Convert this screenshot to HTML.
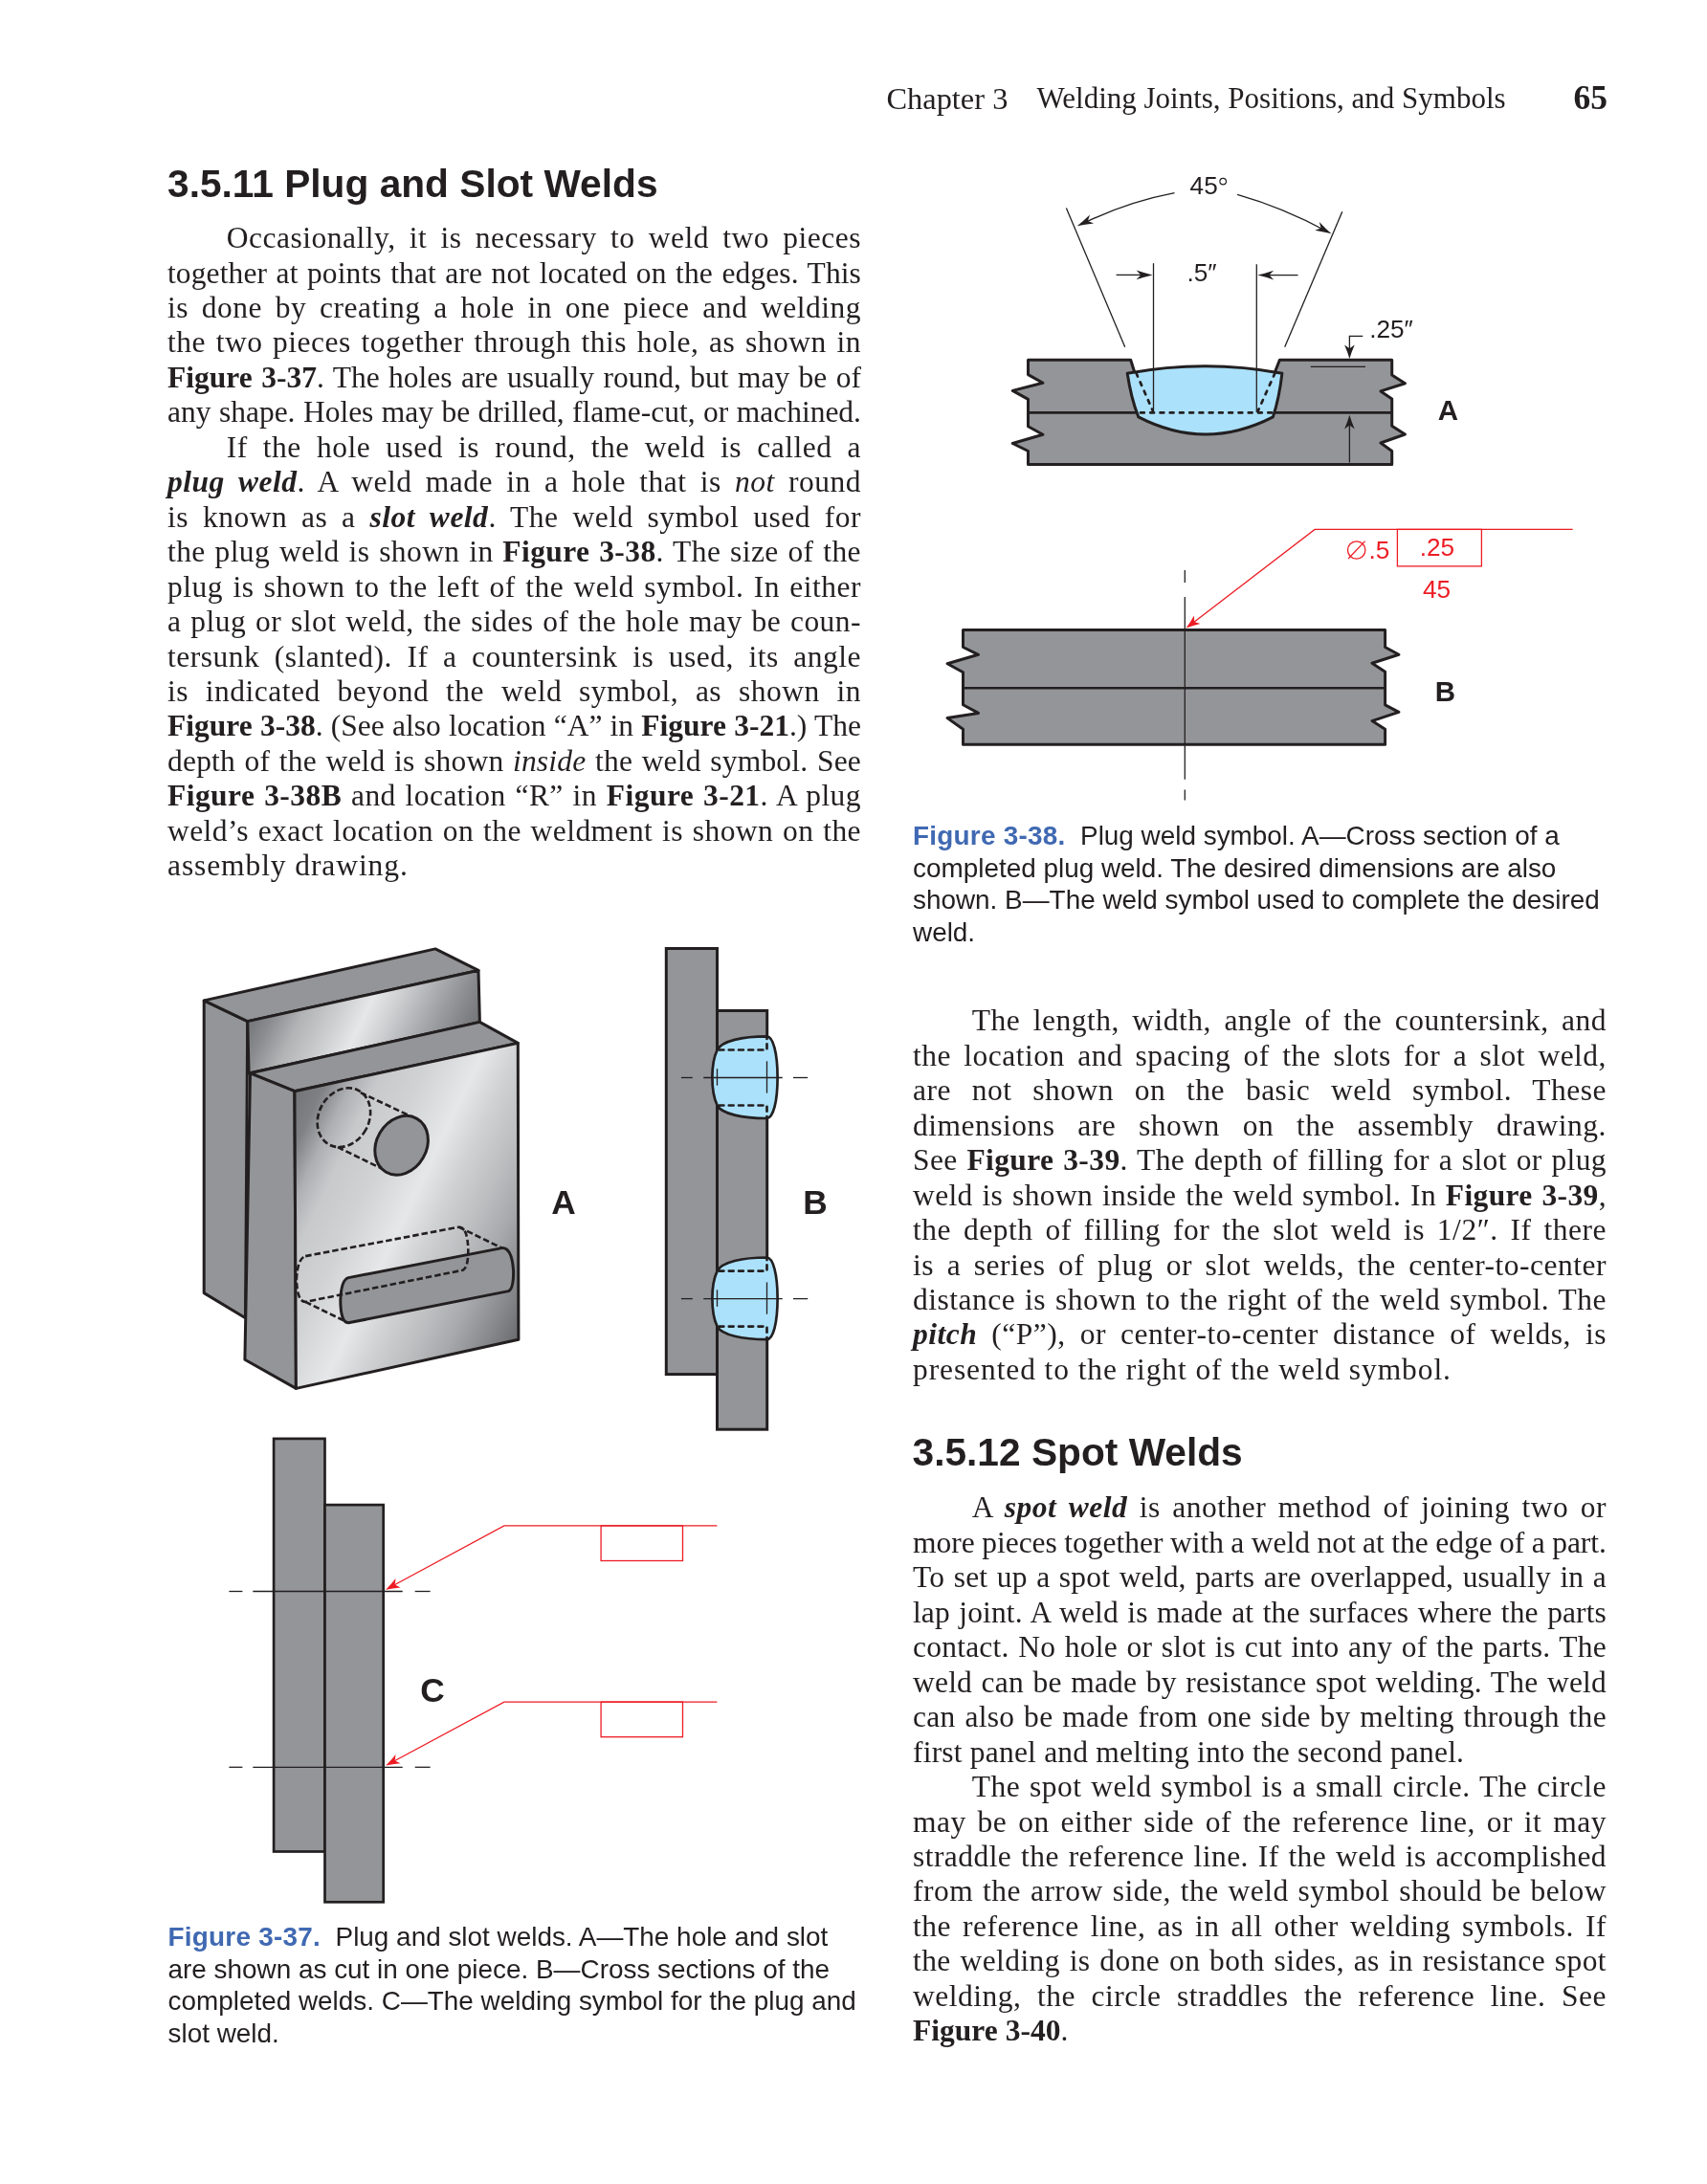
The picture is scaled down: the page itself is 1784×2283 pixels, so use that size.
<!DOCTYPE html>
<html><head><meta charset="utf-8"><title>Chapter 3 Welding Joints, Positions, and Symbols</title>
<style>
html,body{margin:0;padding:0;background:#fff;}
body{width:1784px;height:2283px;position:relative;overflow:hidden;font-family:"Liberation Serif",serif;color:#231f20;}
.ln{position:absolute;font-size:31.5px;line-height:36.45px;height:36.45px;white-space:nowrap;text-align:justify;text-align-last:justify;overflow:visible;}
.ln.last{text-align:left;text-align-last:left;}
.abs{position:absolute;white-space:nowrap;}
.h{font-family:"Liberation Sans",sans-serif;font-weight:bold;font-size:40.7px;line-height:48px;}
.cap{font-family:"Liberation Sans",sans-serif;font-size:27.9px;line-height:33.6px;}
.cap b{color:#4069b2;letter-spacing:0.25px;}
svg{position:absolute;left:0;top:0;}
svg text{font-family:"Liberation Sans",sans-serif;}
</style></head>
<body>
<div id="wrap" style="position:absolute;left:0;top:0;width:1784px;height:2283px;will-change:transform;">
<div class="abs" id="hd1" style="left:926.5px;top:84.9px;font-size:32.4px;line-height:36px;">Chapter 3</div>
<div class="abs" id="hd2" style="left:1083.5px;top:85.3px;font-size:31px;line-height:36px;">Welding Joints, Positions, and Symbols</div>
<div class="abs" id="pg" style="left:1644.5px;top:82.3px;font-size:35.5px;line-height:40px;font-weight:bold;">65</div>

<div class="abs h" id="h1" style="left:175px;top:167.6px;">3.5.11 Plug and Slot Welds</div>
<div class="ln" style="left:236.8px;top:231.10px;width:663.2px;letter-spacing:0.500px;word-spacing:0.00px;">Occasionally, it is necessary to weld two pieces</div>
<div class="ln" style="left:175.0px;top:267.55px;width:725.0px;letter-spacing:0.110px;word-spacing:0.00px;">together at points that are not located on the edges. This</div>
<div class="ln" style="left:175.0px;top:304.00px;width:725.0px;letter-spacing:0.500px;word-spacing:0.00px;">is done by creating a hole in one piece and welding</div>
<div class="ln" style="left:175.0px;top:340.45px;width:725.0px;letter-spacing:0.500px;word-spacing:0.00px;">the two pieces together through this hole, as shown in</div>
<div class="ln" style="left:175.0px;top:376.90px;width:725.0px;letter-spacing:0.014px;word-spacing:0.00px;"><b>Figure 3-37</b>. The holes are usually round, but may be of</div>
<div class="ln" style="left:175.0px;top:413.35px;width:725.0px;letter-spacing:0.000px;word-spacing:0.00px;">any shape. Holes may be drilled, flame-cut, or machined.</div>
<div class="ln" style="left:236.8px;top:449.80px;width:663.2px;letter-spacing:0.500px;word-spacing:0.00px;">If the hole used is round, the weld is called a</div>
<div class="ln" style="left:175.0px;top:486.25px;width:725.0px;letter-spacing:0.500px;word-spacing:0.00px;"><b><i>plug weld</i></b>. A weld made in a hole that is <i>not</i> round</div>
<div class="ln" style="left:175.0px;top:522.70px;width:725.0px;letter-spacing:0.500px;word-spacing:0.00px;">is known as a <b><i>slot weld</i></b>. The weld symbol used for</div>
<div class="ln" style="left:175.0px;top:559.15px;width:725.0px;letter-spacing:0.407px;word-spacing:0.00px;">the plug weld is shown in <b>Figure 3-38</b>. The size of the</div>
<div class="ln" style="left:175.0px;top:595.60px;width:725.0px;letter-spacing:0.500px;word-spacing:0.00px;">plug is shown to the left of the weld symbol. In either</div>
<div class="ln" style="left:175.0px;top:632.05px;width:725.0px;letter-spacing:0.464px;word-spacing:0.00px;">a plug or slot weld, the sides of the hole may be coun-</div>
<div class="ln" style="left:175.0px;top:668.50px;width:725.0px;letter-spacing:0.500px;word-spacing:0.00px;">tersunk (slanted). If a countersink is used, its angle</div>
<div class="ln" style="left:175.0px;top:704.95px;width:725.0px;letter-spacing:0.500px;word-spacing:0.00px;">is indicated beyond the weld symbol, as shown in</div>
<div class="ln" style="left:175.0px;top:741.40px;width:725.0px;letter-spacing:0.000px;word-spacing:0.33px;"><b>Figure 3-38</b>. (See also location “A” in <b>Figure 3-21</b>.) The</div>
<div class="ln" style="left:175.0px;top:777.85px;width:725.0px;letter-spacing:0.203px;word-spacing:0.00px;">depth of the weld is shown <i>inside</i> the weld symbol. See</div>
<div class="ln" style="left:175.0px;top:814.30px;width:725.0px;letter-spacing:0.447px;word-spacing:0.00px;"><b>Figure 3-38B</b> and location “R” in <b>Figure 3-21</b>. A plug</div>
<div class="ln" style="left:175.0px;top:850.75px;width:725.0px;letter-spacing:0.434px;word-spacing:0.00px;">weld’s exact location on the weldment is shown on the</div>
<div class="ln last" style="left:175.0px;top:887.20px;width:725.0px;letter-spacing:0.911px;word-spacing:0.00px;">assembly drawing.</div>

<div class="abs h" id="h2" style="left:953.5px;top:1494px;">3.5.12 Spot Welds</div>
<div class="ln" style="left:1015.8px;top:1049.40px;width:663.2px;letter-spacing:0.500px;word-spacing:0.00px;">The length, width, angle of the countersink, and</div>
<div class="ln" style="left:954.0px;top:1085.85px;width:725.0px;letter-spacing:0.500px;word-spacing:0.00px;">the location and spacing of the slots for a slot weld,</div>
<div class="ln" style="left:954.0px;top:1122.30px;width:725.0px;letter-spacing:0.500px;word-spacing:0.00px;">are not shown on the basic weld symbol. These</div>
<div class="ln" style="left:954.0px;top:1158.75px;width:725.0px;letter-spacing:0.500px;word-spacing:0.00px;">dimensions are shown on the assembly drawing.</div>
<div class="ln" style="left:954.0px;top:1195.20px;width:725.0px;letter-spacing:0.393px;word-spacing:0.00px;">See <b>Figure 3-39</b>. The depth of filling for a slot or plug</div>
<div class="ln" style="left:954.0px;top:1231.65px;width:725.0px;letter-spacing:0.377px;word-spacing:0.00px;">weld is shown inside the weld symbol. In <b>Figure 3-39</b>,</div>
<div class="ln" style="left:954.0px;top:1268.10px;width:725.0px;letter-spacing:0.500px;word-spacing:0.00px;">the depth of filling for the slot weld is 1/2″. If there</div>
<div class="ln" style="left:954.0px;top:1304.55px;width:725.0px;letter-spacing:0.500px;word-spacing:0.00px;">is a series of plug or slot welds, the center-to-center</div>
<div class="ln" style="left:954.0px;top:1341.00px;width:725.0px;letter-spacing:0.500px;word-spacing:0.00px;">distance is shown to the right of the weld symbol. The</div>
<div class="ln" style="left:954.0px;top:1377.45px;width:725.0px;letter-spacing:0.500px;word-spacing:0.00px;"><b><i>pitch</i></b> (“P”), or center-to-center distance of welds, is</div>
<div class="ln last" style="left:954.0px;top:1413.90px;width:725.0px;letter-spacing:0.903px;word-spacing:0.00px;">presented to the right of the weld symbol.</div>
<div class="ln" style="left:1015.8px;top:1558.20px;width:663.2px;letter-spacing:0.500px;word-spacing:0.00px;">A <b><i>spot weld</i></b> is another method of joining two or</div>
<div class="ln" style="left:954.0px;top:1594.68px;width:725.0px;letter-spacing:0.000px;word-spacing:-0.47px;">more pieces together with a weld not at the edge of a part.</div>
<div class="ln" style="left:954.0px;top:1631.16px;width:725.0px;letter-spacing:0.176px;word-spacing:0.00px;">To set up a spot weld, parts are overlapped, usually in a</div>
<div class="ln" style="left:954.0px;top:1667.64px;width:725.0px;letter-spacing:0.122px;word-spacing:0.00px;">lap joint. A weld is made at the surfaces where the parts</div>
<div class="ln" style="left:954.0px;top:1704.12px;width:725.0px;letter-spacing:0.224px;word-spacing:0.00px;">contact. No hole or slot is cut into any of the parts. The</div>
<div class="ln" style="left:954.0px;top:1740.60px;width:725.0px;letter-spacing:0.199px;word-spacing:0.00px;">weld can be made by resistance spot welding. The weld</div>
<div class="ln" style="left:954.0px;top:1777.08px;width:725.0px;letter-spacing:0.324px;word-spacing:0.00px;">can also be made from one side by melting through the</div>
<div class="ln last" style="left:954.0px;top:1813.56px;width:725.0px;letter-spacing:0.203px;word-spacing:0.00px;">first panel and melting into the second panel.</div>
<div class="ln" style="left:1015.8px;top:1850.04px;width:663.2px;letter-spacing:0.479px;word-spacing:0.00px;">The spot weld symbol is a small circle. The circle</div>
<div class="ln" style="left:954.0px;top:1886.52px;width:725.0px;letter-spacing:0.500px;word-spacing:0.00px;">may be on either side of the reference line, or it may</div>
<div class="ln" style="left:954.0px;top:1923.00px;width:725.0px;letter-spacing:0.441px;word-spacing:0.00px;">straddle the reference line. If the weld is accomplished</div>
<div class="ln" style="left:954.0px;top:1959.48px;width:725.0px;letter-spacing:0.493px;word-spacing:0.00px;">from the arrow side, the weld symbol should be below</div>
<div class="ln" style="left:954.0px;top:1995.96px;width:725.0px;letter-spacing:0.500px;word-spacing:0.00px;">the reference line, as in all other welding symbols. If</div>
<div class="ln" style="left:954.0px;top:2032.44px;width:725.0px;letter-spacing:0.415px;word-spacing:0.00px;">the welding is done on both sides, as in resistance spot</div>
<div class="ln" style="left:954.0px;top:2068.92px;width:725.0px;letter-spacing:0.500px;word-spacing:0.00px;">welding, the circle straddles the reference line. See</div>
<div class="ln last" style="left:954.0px;top:2105.40px;width:725.0px;letter-spacing:0.020px;word-spacing:0.00px;"><b>Figure 3-40</b>.</div>

<div class="abs cap" id="c38" style="left:954px;top:857px;"><b>Figure 3-38.</b>&nbsp; Plug weld symbol. A—Cross section of a<br>completed plug weld. The desired dimensions are also<br>shown. B—The weld symbol used to complete the desired<br>weld.</div>
<div class="abs cap" id="c37" style="left:175.5px;top:2008px;"><b>Figure 3-37.</b>&nbsp; Plug and slot welds. A—The hole and slot<br>are shown as cut in one piece. B—Cross sections of the<br>completed welds. C—The welding symbol for the plug and<br>slot weld.</div>

<svg width="1784" height="2283" viewBox="0 0 1784 2283">
<defs>
  <linearGradient id="gface" gradientUnits="userSpaceOnUse" x1="307.9" y1="1140.7" x2="596.7" y2="1279.8">
    <stop offset="0" stop-color="#737477"/>
    <stop offset="0.08" stop-color="#808184"/>
    <stop offset="0.155" stop-color="#aeafb2"/>
    <stop offset="0.23" stop-color="#c8c9cb"/>
    <stop offset="0.35" stop-color="#d1d2d4"/>
    <stop offset="0.50" stop-color="#e6e7e8"/>
    <stop offset="0.60" stop-color="#d0d1d3"/>
    <stop offset="0.71" stop-color="#bcbec0"/>
    <stop offset="0.81" stop-color="#a7a9ac"/>
    <stop offset="0.92" stop-color="#87888b"/>
    <stop offset="1" stop-color="#6d6e71"/>
  </linearGradient>
  <linearGradient id="gback" gradientUnits="userSpaceOnUse" x1="258.7" y1="1067.6" x2="456.1" y2="1162.7">
    <stop offset="0" stop-color="#737477"/>
    <stop offset="0.10" stop-color="#8c8d90"/>
    <stop offset="0.22" stop-color="#b1b3b5"/>
    <stop offset="0.38" stop-color="#cfd0d2"/>
    <stop offset="0.49" stop-color="#e6e7e8"/>
    <stop offset="0.60" stop-color="#cfd0d2"/>
    <stop offset="0.76" stop-color="#a7a9ac"/>
    <stop offset="0.90" stop-color="#87888b"/>
    <stop offset="1" stop-color="#737477"/>
  </linearGradient>
  <path id="ah2" d="M0,0 Q-8,-1.8 -17,-4.9 L-12.3,0 L-17,4.9 Q-8,1.8 0,0 Z"/>
  <path id="ah" d="M0,0 Q-7,-2 -14.6,-5.3 L-10.8,0 L-14.6,5.3 Q-7,2 0,0 Z"/>
</defs>

<!-- ================= Figure 3-38 A ================= -->
<g id="f38a" stroke="#231f20" stroke-linejoin="miter">
  <path d="M1074.5,376.3 L1181.7,376.3 L1186,390 L1332,390 L1337.4,376.3 L1454.7,376.3 L1454.7,392 L1468.4,400.8 L1443,408.9 L1454.7,416.9 L1454.7,445.2 L1468.4,454 L1443,463 L1454.7,471.5 L1454.7,485.4 L1074.5,485.4 L1074.5,471.5 L1058.3,463.5 L1089.9,454.3 L1074.5,445.7 L1074.5,417.4 L1058.3,408.4 L1089.9,400.2 L1074.5,391.6 Z" stroke-linejoin="round" fill="#939598" stroke-width="3"/>
  <line x1="1074.5" y1="431.4" x2="1454.7" y2="431.4" stroke-width="2.6"/>
  <path d="M1178.2,390.2 Q1260,375.2 1339.9,390.2 Q1337,416 1330.4,435.9 Q1260,472.2 1189.8,435.9 Q1182,416 1178.2,390.2 Z" fill="#abe1fa" stroke-width="3" stroke-linejoin="round"/>
  <g fill="none" stroke-width="2.7" stroke-dasharray="3.8 6.45" stroke-linecap="round">
    <line x1="1187.5" y1="390" x2="1204.6" y2="429"/>
    <line x1="1192" y1="431.4" x2="1329" y2="431.4"/>
    <line x1="1332.5" y1="390" x2="1315" y2="429"/>
  </g>
  <g fill="none" stroke-width="1.3">
    <line x1="1205.5" y1="275.2" x2="1205.5" y2="431"/>
    <line x1="1313.3" y1="276.2" x2="1313.3" y2="431"/>
    <line x1="1114.4" y1="217.5" x2="1175.7" y2="362.8"/>
    <line x1="1402.8" y1="221.2" x2="1342.7" y2="362.8"/>
    <path d="M1131,234 Q1178,211 1227.5,201.6"/>
    <path d="M1293.1,203.4 Q1341,217 1387,242"/>
    <line x1="1166.6" y1="287.4" x2="1194" y2="287.4"/>
    <line x1="1356.5" y1="287.6" x2="1325" y2="287.6"/>
    <path d="M1424.3,351.3 L1410.4,351.3 L1410.4,366"/>
    <line x1="1410.4" y1="483.5" x2="1410.4" y2="443"/>
    <line x1="1369.8" y1="383.4" x2="1427" y2="383.4"/>
  </g>
  <g fill="#231f20" stroke="none">
    <use href="#ah2" transform="translate(1125.7,236.2) rotate(155)"/>
    <use href="#ah2" transform="translate(1391.5,244.3) rotate(28)"/>
    <use href="#ah2" transform="translate(1204.6,287.4)"/>
    <use href="#ah2" transform="translate(1314.2,287.6) rotate(180)"/>
    <use href="#ah" transform="translate(1410.4,375) rotate(90)"/>
    <use href="#ah" transform="translate(1410.4,433.8) rotate(-90)"/>
  </g>
</g>
<g fill="#231f20" font-size="26.2">
  <text x="1243.6" y="202.9">45</text>
  <circle cx="1278.2" cy="189.6" r="3.3" fill="none" stroke="#231f20" stroke-width="1.2"/>
  <text x="1240.5" y="293.9">.5″</text>
  <text x="1431.2" y="353.4">.25″</text>
</g>
<text x="1502.7" y="439.1" font-size="29.5" font-weight="bold" fill="#231f20">A</text>

<!-- ================= Figure 3-38 B ================= -->
<g id="f38b" stroke="#231f20" stroke-linejoin="round">
  <path d="M1006.5,658.4 L1447.6,658.4 L1447.6,676.5 L1461.9,684.3 L1434,693.3 L1447.6,702.3 L1447.6,736.8 L1461.9,744.3 L1434,753.6 L1447.6,762.2 L1447.6,778.3 L1006.5,778.3 L1006.5,762.2 L990.1,750.6 L1022.5,745.4 L1006.5,736.8 L1006.5,702.7 L990.1,693.7 L1022.5,684.3 L1006.5,676.5 Z" fill="#939598" stroke-width="3"/>
  <line x1="1006.5" y1="719.3" x2="1447.6" y2="719.3" stroke-width="2.6"/>
  <g stroke-width="1.3">
    <line x1="1238.3" y1="595.9" x2="1238.3" y2="608.9"/>
    <line x1="1238.3" y1="624" x2="1238.3" y2="814.8"/>
    <line x1="1238.3" y1="825.6" x2="1238.3" y2="836.5"/>
  </g>
</g>
<g stroke="#ed1c24" fill="none" stroke-width="1.3">
  <path d="M1245,652.4 L1374.1,553.4 L1643.7,553.4"/>
  <rect x="1460.4" y="553.4" width="88" height="38.5"/>
  <circle cx="1417.7" cy="575" r="9.2"/>
  <line x1="1409.1" y1="584" x2="1426.6" y2="565.6"/>
</g>
<use href="#ah" fill="#ed1c24" transform="translate(1239.6,656.6) rotate(142.5)"/>
<g fill="#ed1c24" font-size="26.2">
  <text x="1430.4" y="583.8">.5</text>
  <text x="1483.7" y="580.6">.25</text>
  <text x="1487" y="625.2">45</text>
</g>
<text x="1499.8" y="732.7" font-size="29.5" font-weight="bold" fill="#231f20">B</text>

<!-- ================= Figure 3-37 A ================= -->
<g id="f37a" stroke="#231f20" stroke-width="3" stroke-linejoin="round">
  <!-- back block: left face, top face, front face -->
  <path d="M213.2,1045.9 L258.7,1067.6 L256.5,1377.7 L213.2,1351.6 Z" fill="#939598"/>
  <path d="M213.2,1045.9 L455,991.9 L500,1014.4 L258.7,1067.6 Z" fill="#939598"/>
  <path d="M258.7,1067.6 L500,1014.4 L501.4,1068.4 L260.1,1122 Z" fill="url(#gback)"/>
  <!-- front block: top face, left face, front face -->
  <path d="M261.5,1121.8 L501.4,1068.4 L541.3,1090.4 L307.9,1140.7 Z" fill="#939598"/>
  <path d="M261.5,1121.8 L307.9,1140.7 L309.4,1451.4 L255.9,1421.3 Z" fill="#939598"/>
  <path d="M307.9,1140.7 L541.3,1090.4 L541.9,1400.2 L309.4,1451.4 Z" fill="url(#gface)"/>
  <!-- plug hole -->
  <g fill="none" stroke-width="2.6" stroke-dasharray="6.5 3">
    <ellipse cx="359.4" cy="1168.2" rx="26.2" ry="32.2" transform="rotate(29 359.4 1168.2)"/>
    <line x1="376.8" y1="1142.1" x2="427.5" y2="1166"/>
    <line x1="352.9" y1="1199.2" x2="402.1" y2="1223.1"/>
  </g>
  <ellipse cx="419.6" cy="1197.3" rx="26.1" ry="32.3" transform="rotate(30 419.6 1197.3)" fill="#939598" stroke-width="3"/>
  <!-- slot -->
  <path d="M364.2,1335.6 L524.5,1304.6 Q535,1304 536.6,1328.5 Q536.8,1347 531.5,1349.6 L364.2,1382.8 Q356,1383 355.8,1359.5 Q356.5,1337.5 364.2,1335.6 Z" fill="#939598"/>
  <g fill="none" stroke-width="2.6" stroke-dasharray="6.5 3">
    <path d="M319.2,1313.1 L479.5,1282.7 Q488.5,1282 489.3,1306 Q489.5,1325 483.7,1327.7 L319.2,1360.9 Q310.5,1361 309.9,1337 Q311,1315.5 319.2,1313.1 Z"/>
    <line x1="479.5" y1="1282.7" x2="524.5" y2="1304.6"/>
    <line x1="319.2" y1="1360.9" x2="364.2" y2="1382.8"/>
  </g>
</g>
<text x="576.3" y="1268.8" font-size="35.3" font-weight="bold" fill="#231f20">A</text>

<!-- ================= Figure 3-37 B ================= -->
<g id="f37b" stroke="#231f20" stroke-width="3">
  <rect x="696.3" y="991.5" width="53.2" height="445.1" fill="#939598"/>
  <rect x="749.5" y="1056.5" width="52.2" height="437.7" fill="#939598"/>
  <g id="plug">
    <path d="M749.6,1097.5 C754.5,1088 776,1083.4 801.5,1083.4 C808,1083.6 812.6,1101 812.6,1126.2 C812.6,1152 808,1168.8 801.5,1169 C776,1169 754.5,1164.5 749.6,1155.5 C746,1148 744.4,1138 744.4,1126.3 C744.4,1115 746,1105 749.6,1097.5 Z" fill="#abe1fa" stroke-width="2.7" stroke-linejoin="round"/>
    <g fill="none" stroke-width="2.7" stroke-dasharray="4.9 5.35" stroke-linecap="round">
      <path d="M751.5,1097.5 L801.5,1097.5 L801.5,1084.5"/>
      <path d="M751.5,1155.5 L801.5,1155.5 L801.5,1168"/>
    </g>
    <g fill="none" stroke-width="1.3">
      <line x1="711.9" y1="1126.5" x2="723.8" y2="1126.5"/>
      <line x1="735.2" y1="1126.5" x2="817.7" y2="1126.5"/>
      <line x1="829" y1="1126.5" x2="844.2" y2="1126.5"/>
      <line x1="749.5" y1="1117.2" x2="749.5" y2="1134.7"/>
      <line x1="801.5" y1="1109.3" x2="801.5" y2="1142.6"/>
    </g>
  </g>
  <use href="#plug" transform="translate(0,231.1)"/>
</g>
<text x="839.2" y="1268.6" font-size="35.3" font-weight="bold" fill="#231f20">B</text>

<!-- ================= Figure 3-37 C ================= -->
<g id="f37c" stroke="#231f20" stroke-width="2.7">
  <rect x="286.1" y="1503.9" width="53.4" height="431.6" fill="#939598"/>
  <rect x="339.5" y="1573.1" width="61.2" height="415.2" fill="#939598"/>
  <g stroke-width="1.3">
    <line x1="239.4" y1="1663.5" x2="253.4" y2="1663.5"/>
    <line x1="264.3" y1="1663.5" x2="420.7" y2="1663.5"/>
    <line x1="433.7" y1="1663.5" x2="449.6" y2="1663.5"/>
    <line x1="239.4" y1="1847.3" x2="253.4" y2="1847.3"/>
    <line x1="264.3" y1="1847.3" x2="420.7" y2="1847.3"/>
    <line x1="433.7" y1="1847.3" x2="449.6" y2="1847.3"/>
  </g>
</g>
<g stroke="#ed1c24" fill="none" stroke-width="1.3">
  <path d="M409,1658.5 L526.9,1594.9 L749.4,1594.9"/>
  <rect x="628.1" y="1594.9" width="85.4" height="36.6"/>
  <path d="M409,1842.5 L526.9,1779.1 L749.4,1779.1"/>
  <rect x="628.1" y="1779.1" width="85.4" height="36.6"/>
</g>
<use href="#ah" fill="#ed1c24" transform="translate(403.2,1661.7) rotate(151.6)"/>
<use href="#ah" fill="#ed1c24" transform="translate(403.2,1845.6) rotate(151.6)"/>
<text x="439.2" y="1778.9" font-size="35.3" font-weight="bold" fill="#231f20">C</text>
</svg>

</div>
</body></html>
